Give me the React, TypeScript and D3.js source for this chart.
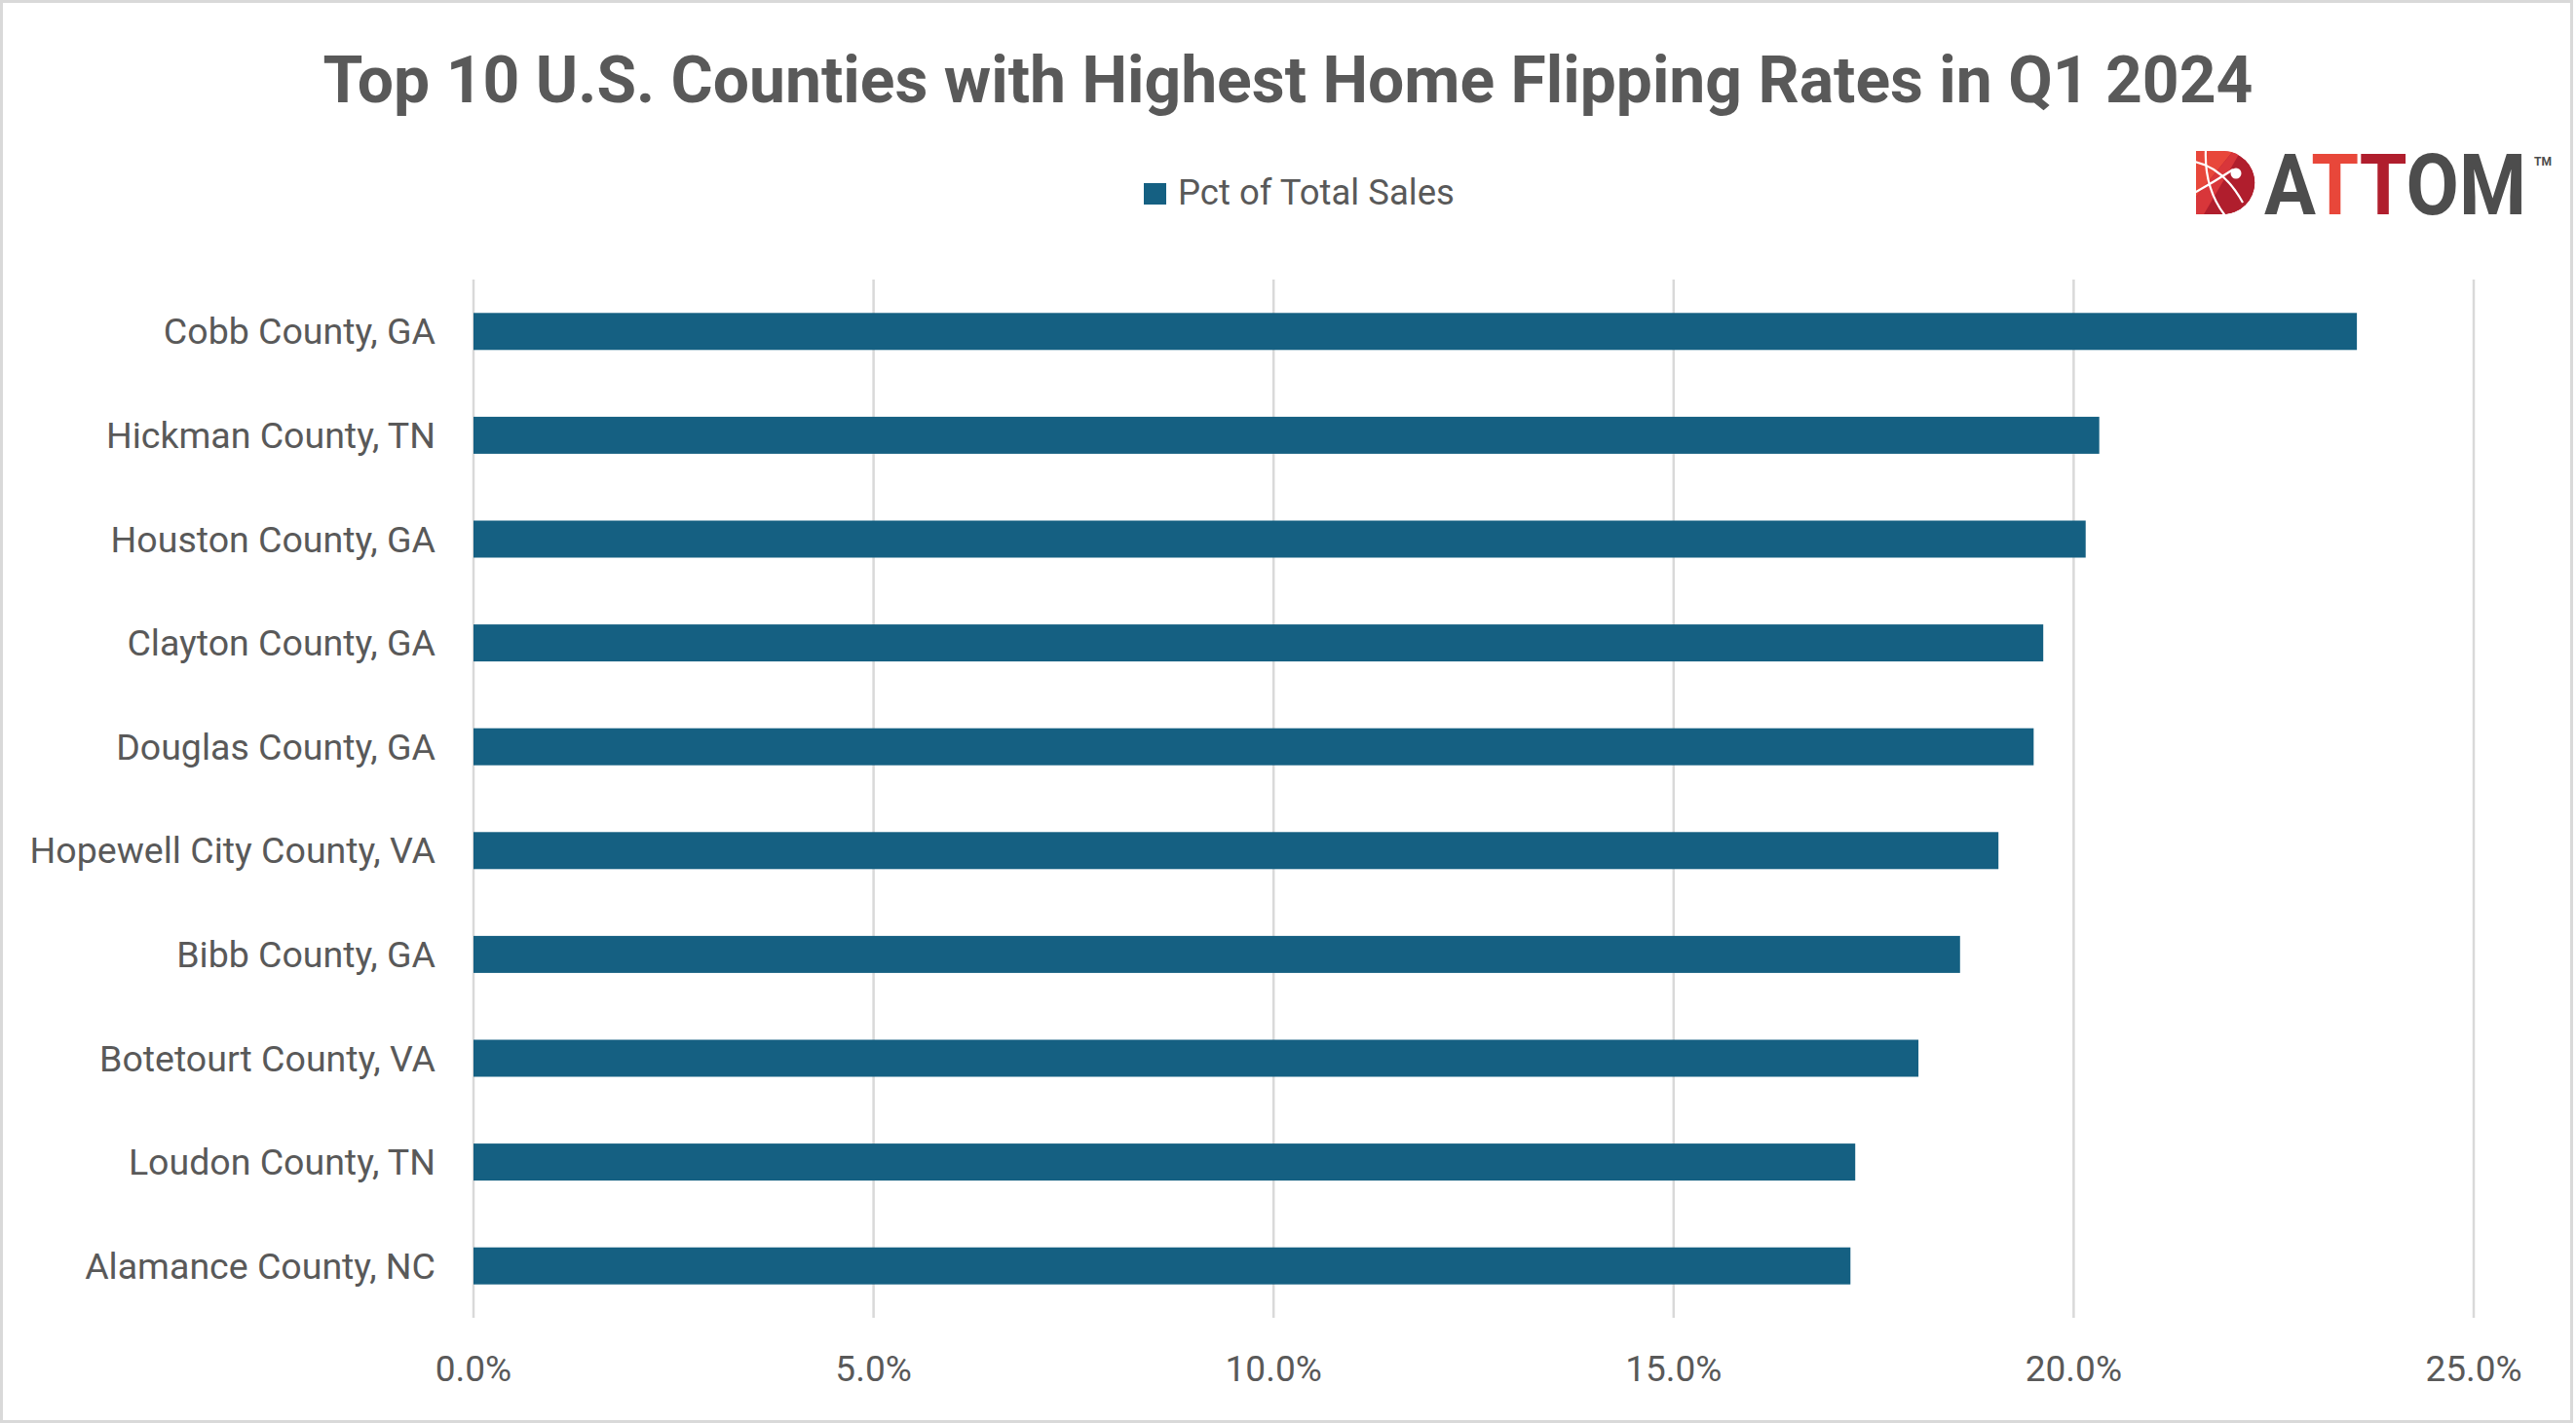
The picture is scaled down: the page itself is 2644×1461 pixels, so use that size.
import React, { useEffect, useRef } from 'react';
import * as d3 from 'd3';

const chartTitle = "Top 10 U.S. Counties with Highest Home Flipping Rates in Q1 2024";
const seriesName = "Pct of Total Sales";
const counties = [
  "Cobb County, GA",
  "Hickman County, TN",
  "Houston County, GA",
  "Clayton County, GA",
  "Douglas County, GA",
  "Hopewell City County, VA",
  "Bibb County, GA",
  "Botetourt County, VA",
  "Loudon County, TN",
  "Alamance County, NC",
];
const pctOfTotalSales = [23.54, 20.32, 20.15, 19.62, 19.5, 19.06, 18.58, 18.06, 17.27, 17.21];
const xTicks = [0, 5, 10, 15, 20, 25];

const W = 2644;
const H = 1461;
const BAR = "#156082";
const TEXT = "#595959";
const GRID = "#d9d9d9";
const FONT = "Roboto, 'Noto Sans', sans-serif";

export default function App() {
  const svgRef = useRef<SVGSVGElement>(null);

  useEffect(() => {
    if (!svgRef.current) return;
    const svg = d3.select(svgRef.current);
    svg.selectAll("*").remove();

    const plot = { left: 486, right: 2539, top: 287, bottom: 1353 };

    const x = d3.scaleLinear().domain([0, 25]).range([plot.left, plot.right]);
    const y = d3.scaleBand<string>()
      .domain(counties)
      .range([plot.top, plot.bottom])
      .paddingInner(0.6435)
      .paddingOuter(0.6435 / 2);

    // outer frame
    svg.append("rect")
      .attr("x", 1.5).attr("y", 1.5)
      .attr("width", W - 6).attr("height", H - 3)
      .attr("fill", "#fff")
      .attr("stroke", GRID)
      .attr("stroke-width", 3);

    // title
    svg.append("text")
      .attr("x", W / 2)
      .attr("y", 105)
      .attr("text-anchor", "middle")
      .attr("font-family", FONT)
      .attr("font-weight", 700)
      .attr("font-size", 66)
      .attr("fill", TEXT)
      .text(chartTitle);

    // legend
    const legend = svg.append("g");
    legend.append("rect")
      .attr("x", 1174).attr("y", 188)
      .attr("width", 23).attr("height", 22)
      .attr("fill", BAR);
    legend.append("text")
      .attr("x", 1209).attr("y", 210)
      .attr("font-family", FONT)
      .attr("font-size", 36.5)
      .attr("fill", TEXT)
      .text(seriesName);

    // grid lines
    svg.append("g")
      .selectAll("line")
      .data(xTicks)
      .join("line")
      .attr("x1", d => x(d)).attr("x2", d => x(d))
      .attr("y1", plot.top).attr("y2", plot.bottom)
      .attr("stroke", GRID)
      .attr("stroke-width", 2.5);

    // bars
    svg.append("g")
      .selectAll("rect")
      .data(counties)
      .join("rect")
      .attr("x", x(0))
      .attr("y", d => y(d)!)
      .attr("width", (_, i) => x(pctOfTotalSales[i]) - x(0))
      .attr("height", y.bandwidth())
      .attr("fill", BAR);

    // category labels
    svg.append("g")
      .selectAll("text")
      .data(counties)
      .join("text")
      .attr("x", 447)
      .attr("y", d => y(d)! + y.bandwidth() / 2 + 13)
      .attr("text-anchor", "end")
      .attr("font-family", FONT)
      .attr("font-size", 37.5)
      .attr("fill", TEXT)
      .text(d => d);

    // x tick labels
    svg.append("g")
      .selectAll("text")
      .data(xTicks)
      .join("text")
      .attr("x", d => x(d))
      .attr("y", 1418)
      .attr("text-anchor", "middle")
      .attr("font-family", FONT)
      .attr("font-size", 37)
      .attr("fill", TEXT)
      .text(d => d.toFixed(1) + "%");

    // ATTOM logo
    const defs = svg.append("defs");
    const dShape = "M2254,155 H2282 A32.5,32.5 0 0 1 2282,220 H2254 Z";
    defs.append("clipPath").attr("id", "logo-d")
      .append("path").attr("d", dShape);
    const logo = svg.append("g");
    const mark = logo.append("g").attr("clip-path", "url(#logo-d)");
    mark.append("path").attr("d", dShape).attr("fill", "#b01e2d");
    mark.append("path")
      .attr("d", "M2254,155 L2292,155 L2254,202 Z")
      .attr("fill", "#e8473a");
    mark.append("path")
      .attr("d", "M2292,155 L2300,155 L2262,220 L2254,220 L2254,202 Z")
      .attr("fill", "#d8363a");
    const arcs = mark.append("g")
      .attr("fill", "none").attr("stroke", "#fff").attr("stroke-width", 2.2);
    arcs.append("path").attr("d", "M2252,166 Q2282,172 2302,208");
    arcs.append("path").attr("d", "M2264,153 Q2262,195 2286,224");
    arcs.append("path").attr("d", "M2252,198 Q2274,186 2292,174");
    mark.append("circle").attr("cx", 2295).attr("cy", 178).attr("r", 5.5).attr("fill", "#fff");

    const letters = [
      { ch: "A", color: "#4d4d4d" },
      { ch: "T", color: "#e8473a" },
      { ch: "T", color: "#b01e2d" },
      { ch: "OM", color: "#4d4d4d" },
    ];
    const word = logo.append("text")
      .attr("x", 2324)
      .attr("y", 220)
      .attr("textLength", 269)
      .attr("lengthAdjust", "spacingAndGlyphs")
      .attr("font-family", FONT)
      .attr("font-weight", 700)
      .attr("font-size", 87);
    word.selectAll("tspan")
      .data(letters)
      .join("tspan")
      .attr("fill", d => d.color)
      .text(d => d.ch);
    logo.append("text")
      .attr("x", 2601).attr("y", 170)
      .attr("font-family", FONT)
      .attr("font-weight", 700)
      .attr("font-size", 12)
      .attr("fill", "#4d4d4d")
      .text("TM");
  }, []);

  return (
    <svg
      ref={svgRef}
      width={W}
      height={H}
      style={{ position: "absolute", top: 0, left: 0, display: "block" }}
    />
  );
}
